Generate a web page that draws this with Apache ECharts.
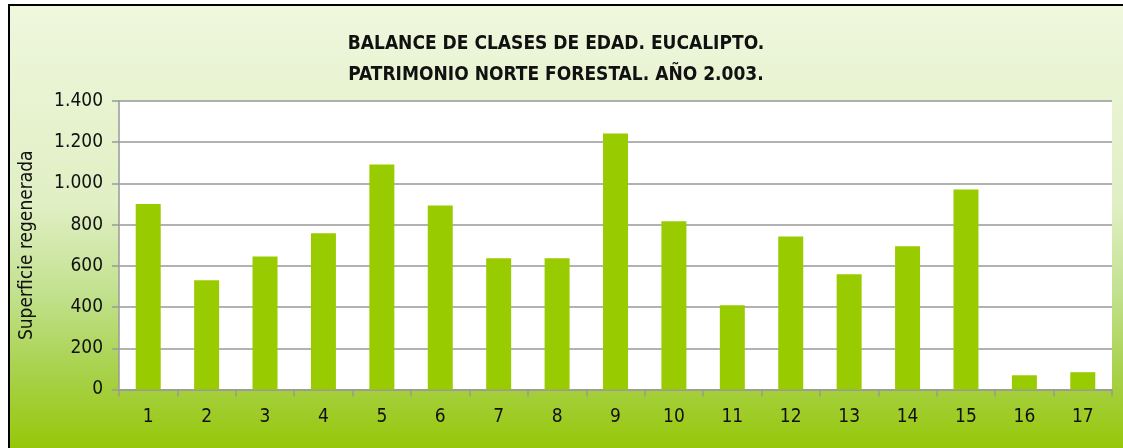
<!DOCTYPE html>
<html>
<head>
<meta charset="utf-8">
<script src="https://cdn.jsdelivr.net/npm/echarts@6/dist/echarts.min.js"></script>
<style>
  html, body { margin: 0; padding: 0; background: #fff; }
  #wrap { position: absolute; left: 8px; top: 4px; width: 1113px; height: 442px;
          border-left: 2px solid #000; border-top: 2px solid #000; }
  #main { width: 1113px; height: 442px; }
</style>
</head>
<body>
<div id="wrap"><div id="main"></div></div>
<script>
var clases = ['1','2','3','4','5','6','7','8','9','10','11','12','13','14','15','16','17'];
var superficie = [900, 530, 646, 758, 1092, 893, 637, 637, 1242, 816, 409, 743, 559, 695, 970, 69, 84];
var titulo = 'BALANCE DE CLASES DE EDAD. EUCALIPTO.\nPATRIMONIO NORTE FORESTAL. AÑO 2.003.';
var ejeY = 'Superficie regenerada';

var fuente = '"Liberation Sans Narrow", "DejaVu Sans Condensed", "Liberation Sans", sans-serif';

var chart = echarts.init(document.getElementById('main'));
chart.setOption({
	backgroundColor: {
		type: 'linear', x: 0, y: 0, x2: 0, y2: 1,
		colorStops: [
			{offset: 0, color: '#eff7dd'},
			{offset: 0.45, color: '#e0efc4'},
			{offset: 0.65, color: '#c2e18e'},
			{offset: 0.82, color: '#a9d24e'},
			{offset: 1, color: '#97c70a'}
		]
	},
	textStyle: {fontFamily: fuente},
	title: {
		text: titulo,
		left: 541, top: 18, textAlign: 'center',
		textStyle: {fontSize: 19, fontWeight: 'bold', color: '#111', lineHeight: 31, fontFamily: fuente}
	},
	grid: {left: 107, top: 95, width: 995, height: 288.5, backgroundColor: '#fff', show: true, borderWidth: 0},
	xAxis: {
		type: 'category',
		data: clases,
		axisLine: {lineStyle: {color: '#999', width: 1.5}},
		axisTick: {show: true, length: 7, lineStyle: {color: '#999', width: 1.5}},
		axisLabel: {fontSize: 19, color: '#111', margin: 18, fontFamily: fuente}
	},
	yAxis: {
		type: 'value',
		min: 0, max: 1400, interval: 200,
		name: ejeY,
		nameLocation: 'middle',
		nameGap: 82,
		nameTextStyle: {fontSize: 19, color: '#111', fontFamily: fuente},
		axisLine: {show: true, lineStyle: {color: '#999', width: 1.5}},
		axisTick: {show: true, length: 7, lineStyle: {color: '#999', width: 1.5}},
		axisLabel: {fontSize: 19, color: '#111', margin: 16, fontFamily: fuente,
			formatter: function (v) { return String(v).replace(/\B(?=(\d{3})+(?!\d))/g, '.'); }},
		splitLine: {lineStyle: {color: '#999', width: 1.5}}
	},
	series: [{
		type: 'bar',
		data: superficie,
		barWidth: 25,
		itemStyle: {color: '#99cc00'},
		animation: false
	}]
});
</script>
</body>
</html>
